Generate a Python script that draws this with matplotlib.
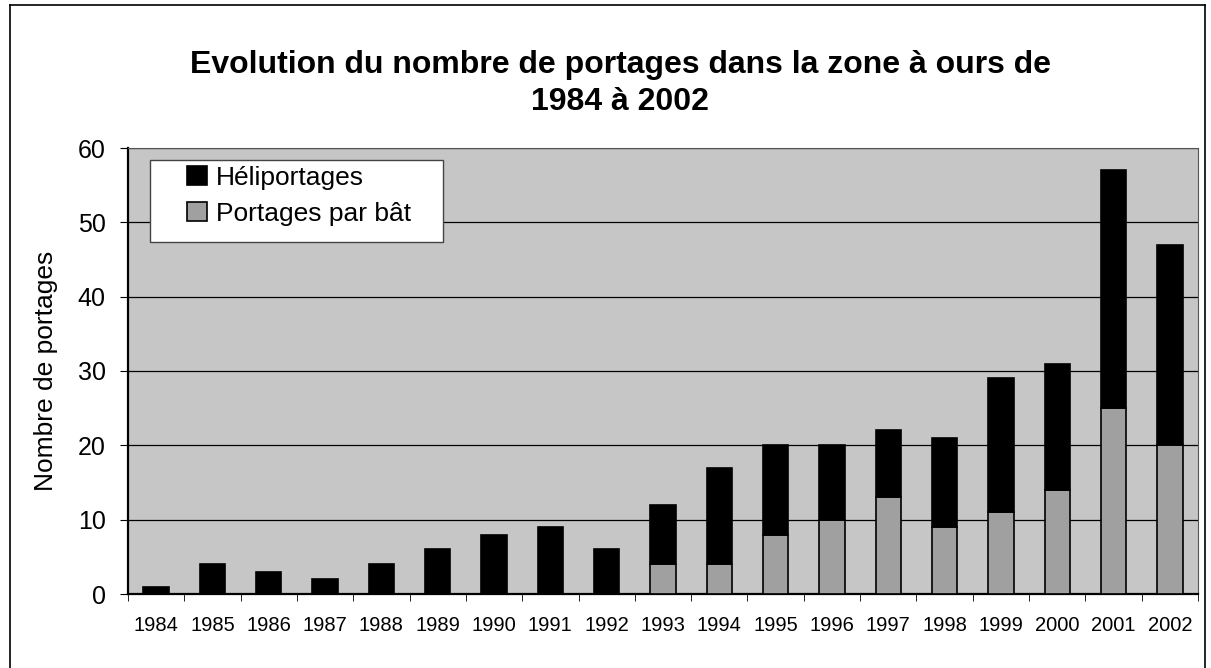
import matplotlib.pyplot as plt
import numpy as np
from matplotlib.lines import Line2D
from matplotlib.patches import Rectangle

years = ['1984', '1985', '1986', '1987', '1988', '1989', '1990', '1991', '1992', '1993',
         '1994', '1995', '1996', '1997', '1998', '1999', '2000', '2001', '2002']
bat = [0, 0, 0, 0, 0, 0, 0, 0, 0, 4, 4, 8, 10, 13, 9, 11, 14, 25, 20]
totals = [1, 4, 3, 2, 4, 6, 8, 9, 6, 12, 17, 20, 20, 22, 21, 29, 31, 57, 47]
heli = [t - b for t, b in zip(totals, bat)]

plt.rcParams['font.family'] = ['Liberation Sans', 'DejaVu Sans']

W, H = 1211, 668
fig = plt.figure(figsize=(W / 100, H / 100), dpi=100)
ax = fig.add_axes([128 / W, 1 - 594 / H, 1070 / W, 446 / H])

x = np.arange(len(years))
w = 0.45
ax.bar(x, bat, w, color='#a0a0a0', edgecolor='black', linewidth=1.2,
       label='Portages par bât', zorder=3)
ax.bar(x, heli, w, bottom=bat, color='black', edgecolor='black', linewidth=1.2,
       label='Héliportages', zorder=3)

ax.set_facecolor('#c6c6c6')
ax.set_xlim(-0.5, len(years) - 0.5)
ax.set_ylim(0, 60)
ax.set_yticks(range(0, 61, 10))
ax.tick_params(axis='y', labelsize=18, length=6, direction='out', pad=10)
ax.set_xticks(x)
ax.set_xticklabels(years, fontsize=14.5)
ax.set_xticks(np.arange(-0.5, len(years)), minor=True)
ax.tick_params(axis='x', which='major', length=0, pad=16)
ax.tick_params(axis='x', which='minor', length=5, direction='out')
ax.yaxis.grid(True, color='black', linewidth=0.9, zorder=1)
ax.set_axisbelow(True)
for s in ['left', 'bottom']:
    ax.spines[s].set_linewidth(1.6)
for s in ['top', 'right']:
    ax.spines[s].set_linewidth(0.8)
    ax.spines[s].set_color('#555555')

ax.set_ylabel('Nombre de portages', fontsize=19, labelpad=14)

fig.text(0.512, 1 - 65 / H, 'Evolution du nombre de portages dans la zone à ours de',
         ha='center', va='center', fontsize=23, fontweight='bold')
fig.text(0.512, 1 - 102 / H, '1984 à 2002', ha='center', va='center',
         fontsize=23, fontweight='bold')

# legend: white box with wide side margins
ax.add_patch(Rectangle((0.0206, 0.789), 0.2738, 0.184, transform=ax.transAxes,
                       facecolor='white', edgecolor='#444444', linewidth=1.0, zorder=4))
h, l = ax.get_legend_handles_labels()
leg = ax.legend(h[::-1], l[::-1], loc='upper left', bbox_to_anchor=(0.055, 0.96),
                fontsize=19, frameon=False,
                handlelength=0.75, handleheight=0.75, handletextpad=0.35,
                borderpad=0, labelspacing=0.45, borderaxespad=0)
leg.set_zorder(5)

# outer border of the chart area
for xs, ys in [([10 / W, 10 / W], [0, 1 - 5 / H]),
               ([10 / W, 1205 / W], [1 - 5 / H, 1 - 5 / H]),
               ([1205 / W, 1205 / W], [0, 1 - 5 / H])]:
    fig.add_artist(Line2D(xs, ys, color='black', linewidth=1.2, transform=fig.transFigure))

fig.savefig('out.png', dpi=100, facecolor='white')
